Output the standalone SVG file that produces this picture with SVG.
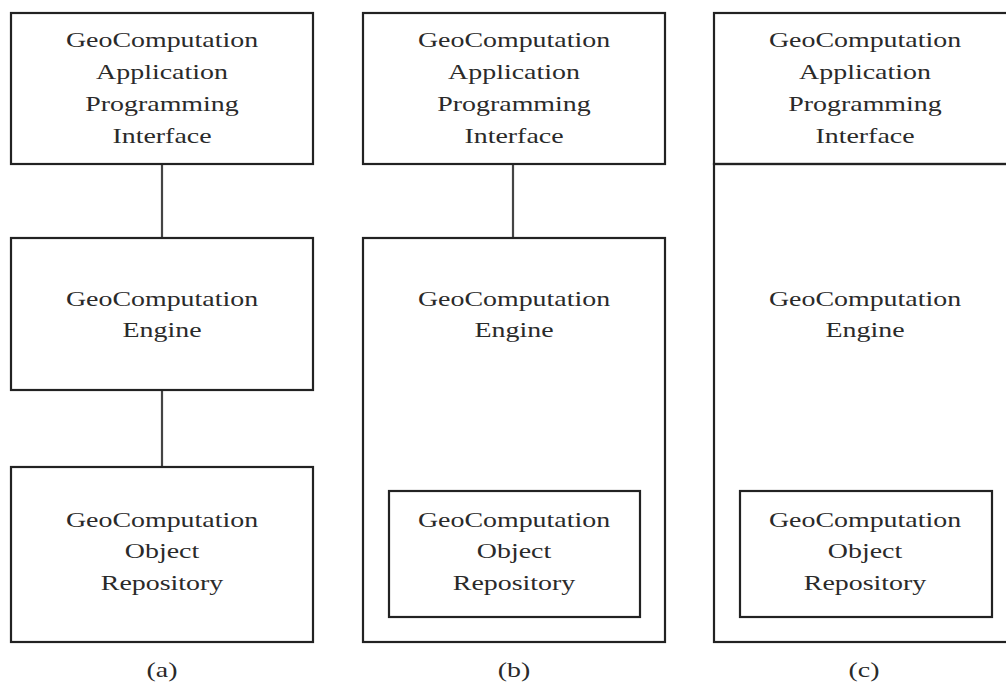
<svg xmlns="http://www.w3.org/2000/svg" width="1006" height="685" viewBox="0 0 1006 685">
<style>
.box{fill:none;stroke:#222;stroke-width:2.2}
.conn{stroke:#444;stroke-width:2.2;fill:none}
.t{font-family:"Liberation Serif","Times New Roman",serif;font-size:21px;fill:#2a2a2a;text-anchor:middle}
</style>
<rect width="1006" height="685" fill="#fff"/>
<g id="connectors">
<line class="conn" x1="162" y1="164" x2="162" y2="238" stroke="#555"/>
<line class="conn" x1="162" y1="390" x2="162" y2="467" stroke="#555"/>
<line class="conn" x1="513" y1="164" x2="513" y2="238" stroke="#222"/>
</g>
<g id="a-api">
<rect class="box" x="11" y="13" width="302" height="151"/>
<g transform="translate(162 0) scale(1.33 1)">
<text class="t" x="0" y="47">GeoComputation</text>
<text class="t" x="0" y="79">Application</text>
<text class="t" x="0" y="111">Programming</text>
<text class="t" x="0" y="143">Interface</text>
</g>
</g>
<g id="a-engine">
<rect class="box" x="11" y="238" width="302" height="152"/>
<g transform="translate(162 0) scale(1.33 1)">
<text class="t" x="0" y="306">GeoComputation</text>
<text class="t" x="0" y="337">Engine</text>
</g>
</g>
<g id="a-repo">
<rect class="box" x="11" y="467" width="302" height="175"/>
<g transform="translate(162 0) scale(1.33 1)">
<text class="t" x="0" y="527">GeoComputation</text>
<text class="t" x="0" y="558">Object</text>
<text class="t" x="0" y="590">Repository</text>
</g>
</g>
<g id="a-label" transform="translate(162 0) scale(1.33 1)"><text class="t" x="0" y="677">(a)</text></g>

<g id="b-api">
<rect class="box" x="363" y="13" width="302" height="151"/>
<g transform="translate(514 0) scale(1.33 1)">
<text class="t" x="0" y="47">GeoComputation</text>
<text class="t" x="0" y="79">Application</text>
<text class="t" x="0" y="111">Programming</text>
<text class="t" x="0" y="143">Interface</text>
</g>
</g>
<g id="b-engine">
<rect class="box" x="363" y="238" width="302" height="404"/>
<g transform="translate(514 0) scale(1.33 1)">
<text class="t" x="0" y="306">GeoComputation</text>
<text class="t" x="0" y="337">Engine</text>
</g>
</g>
<g id="b-repo">
<rect class="box" x="389" y="491" width="251" height="126"/>
<g transform="translate(514 0) scale(1.33 1)">
<text class="t" x="0" y="527">GeoComputation</text>
<text class="t" x="0" y="558">Object</text>
<text class="t" x="0" y="590">Repository</text>
</g>
</g>
<g id="b-label" transform="translate(514 0) scale(1.33 1)"><text class="t" x="0" y="677">(b)</text></g>

<g id="c-api">
<rect class="box" x="714" y="13" width="300" height="151"/>
<g transform="translate(865 0) scale(1.33 1)">
<text class="t" x="0" y="47">GeoComputation</text>
<text class="t" x="0" y="79">Application</text>
<text class="t" x="0" y="111">Programming</text>
<text class="t" x="0" y="143">Interface</text>
</g>
</g>
<g id="c-engine">
<rect class="box" x="714" y="164" width="300" height="478"/>
<g transform="translate(865 0) scale(1.33 1)">
<text class="t" x="0" y="306">GeoComputation</text>
<text class="t" x="0" y="337">Engine</text>
</g>
</g>
<g id="c-repo">
<rect class="box" x="740" y="491" width="252" height="126"/>
<g transform="translate(865 0) scale(1.33 1)">
<text class="t" x="0" y="527">GeoComputation</text>
<text class="t" x="0" y="558">Object</text>
<text class="t" x="0" y="590">Repository</text>
</g>
</g>
<g id="c-label" transform="translate(864 0) scale(1.33 1)"><text class="t" x="0" y="677">(c)</text></g>
</svg>
